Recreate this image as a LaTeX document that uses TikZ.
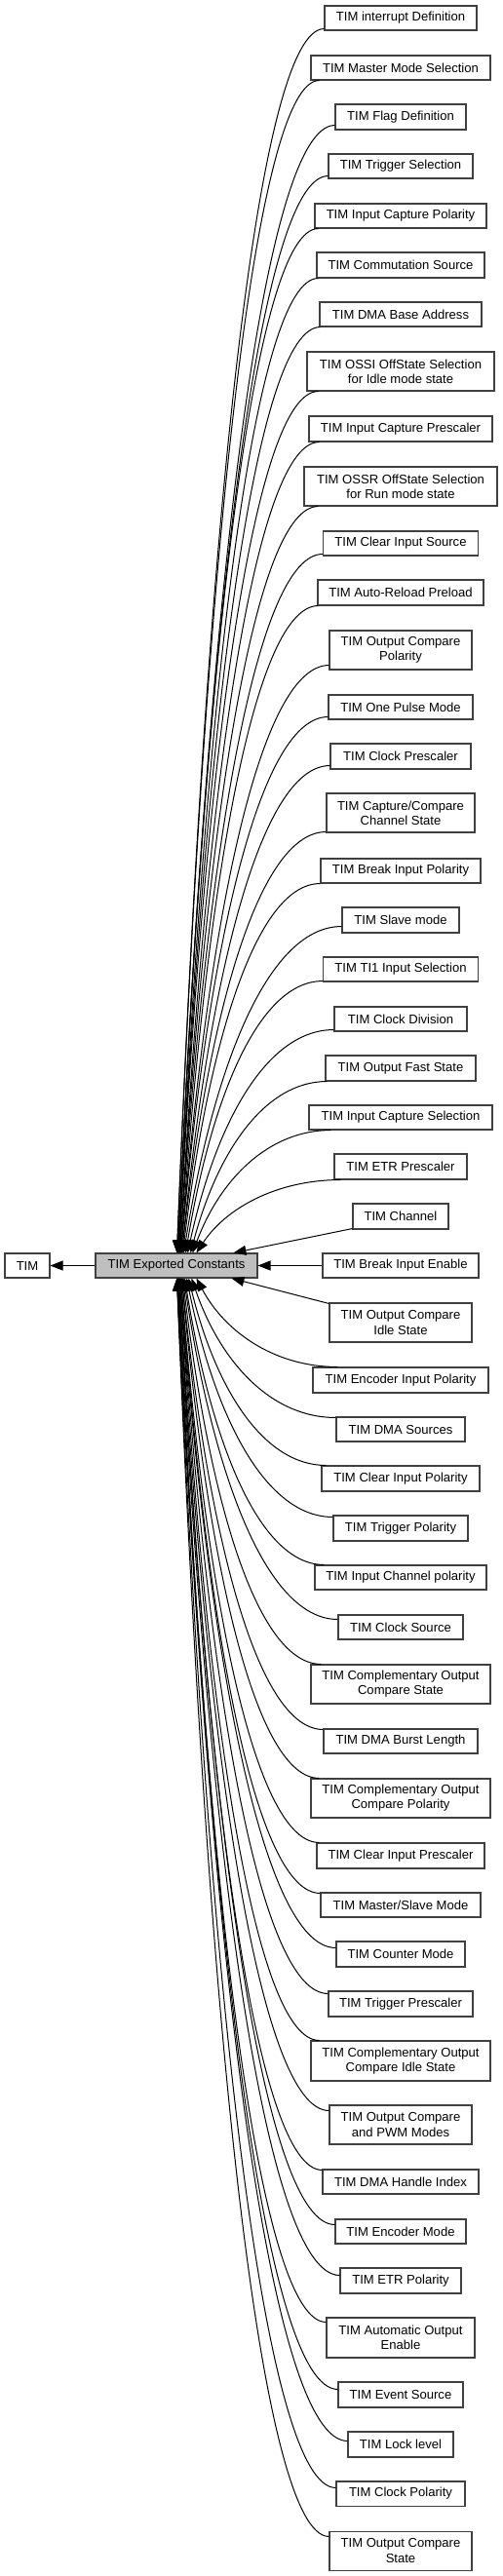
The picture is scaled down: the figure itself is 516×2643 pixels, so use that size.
\documentclass[tikz,border=0pt]{standalone}
\usepackage{fontspec}
\setmainfont{Liberation Sans}
\usetikzlibrary{arrows.meta,calc}
\definecolor{bord}{HTML}{404040}
\definecolor{cgray}{HTML}{BFBFBF}
\tikzset{
  box/.style={draw=bord, line width=0.8pt, fill=white, align=center, inner sep=0pt,
    font=\fontsize{9.8}{11.3}\selectfont},
  edge/.style={draw=black, line width=0.75pt, -{Triangle[length=9.75pt,width=7.5pt]}}
}
\newcommand\bx[6]{\node[box, minimum width=#4*0.75pt, minimum height=#5*0.75pt] (#1) at (#2,#3) {#6};}
\newcommand\upedge[4]{%
  \draw[edge] let \p1=([shift={(#2,#3)}]#1.south west), \p2=([shift={(#4,0)}]cen.north west) in
   (\p1) .. controls ({\x1-0.45*(\x1-\x2)},\y1) and ({\x2+0.2*(\x1-\x2)},{\y2+0.6*(\y1-\y2)}) .. (\p2);}
\newcommand\dnedge[4]{%
  \draw[edge] let \p1=([shift={(#2,#3)}]#1.north west), \p2=([shift={(#4,0)}]cen.south west) in
   (\p1) .. controls ({\x1-0.45*(\x1-\x2)},\y1) and ({\x2+0.2*(\x1-\x2)},{\y2+0.6*(\y1-\y2)}) .. (\p2);}
\begin{document}
\begin{tikzpicture}[x=0.75pt,y=-0.75pt]
\useasboundingbox (0,0) rectangle (516,2643);
% central and TIM
\node[box, fill=cgray, minimum width=166*0.75pt, minimum height=25*0.75pt] (cen) at (181,1298.5) {TIM Exported Constants};
\bx{tim}{28}{1298.5}{46}{25}{TIM}
% upper children
\bx{c1}{411}{18.5}{156}{25}{TIM interrupt Definition}
\bx{c2}{411}{69.5}{184}{25}{TIM Master Mode Selection}
\bx{c3}{411}{120}{134}{26}{TIM Flag Definition}
\bx{c4}{411}{170.5}{148}{25}{TIM Trigger Selection}
\bx{c5}{411}{221.5}{176}{25}{TIM Input Capture Polarity}
\bx{c6}{411}{272}{172}{26}{TIM Commutation Source}
\bx{c7}{411}{322.5}{166}{25}{TIM DMA Base Address}
\bx{c8}{411}{381}{192}{40}{TIM OSSI OffState Selection\\for Idle mode state}
\bx{c9}{411}{440}{188}{26}{TIM Input Capture Prescaler}
\bx{c10}{411}{499}{198}{40}{TIM OSSR OffState Selection\\for Run mode state}
\bx{c11}{411}{557.5}{159}{25}{TIM Clear Input Source}
\bx{c12}{411}{608}{170}{26}{TIM Auto-Reload Preload}
\bx{c13}{411}{667}{146}{40}{TIM Output Compare\\Polarity}
\bx{c14}{411}{725.5}{148}{25}{TIM One Pulse Mode}
\bx{c15}{411}{776}{144}{26}{TIM Clock Prescaler}
\bx{c16}{411}{834}{152}{40}{TIM Capture/Compare\\Channel State}
\bx{c17}{411}{893.5}{164}{25}{TIM Break Input Polarity}
\bx{c18}{411}{944}{120}{26}{TIM Slave mode}
\bx{c19}{411}{994.5}{159}{25}{TIM TI1 Input Selection}
\bx{c20}{411}{1045.5}{136}{25}{TIM Clock Division}
\bx{c21}{411}{1096}{154}{26}{TIM Output Fast State}
\bx{c22}{411}{1146.5}{188}{25}{TIM Input Capture Selection}
\bx{c23}{411}{1197}{136}{26}{TIM ETR Prescaler}
\bx{c24}{411}{1248}{98}{26}{TIM Channel}
\bx{c25}{411}{1298.5}{160}{25}{TIM Break Input Enable}
% lower children
\bx{c26}{411}{1357}{146}{40}{TIM Output Compare\\Idle State}
\bx{c27}{411}{1416}{180}{26}{TIM Encoder Input Polarity}
\bx{c28}{411}{1466.5}{132}{25}{TIM DMA Sources}
\bx{c29}{411}{1517}{162}{26}{TIM Clear Input Polarity}
\bx{c30}{411}{1568}{138}{26}{TIM Trigger Polarity}
\bx{c31}{411}{1618.5}{176}{25}{TIM Input Channel polarity}
\bx{c32}{411}{1669.5}{128}{25}{TIM Clock Source}
\bx{c33}{411}{1728}{184}{40}{TIM Complementary Output\\Compare State}
\bx{c34}{411}{1786.5}{158}{25}{TIM DMA Burst Length}
\bx{c35}{411}{1845}{184}{40}{TIM Complementary Output\\Compare Polarity}
\bx{c36}{411}{1904}{172}{26}{TIM Clear Input Prescaler}
\bx{c37}{411}{1954.5}{164}{25}{TIM Master/Slave Mode}
\bx{c38}{411}{2005}{132}{26}{TIM Counter Mode}
\bx{c39}{411}{2056}{148}{26}{TIM Trigger Prescaler}
\bx{c40}{411}{2114.5}{184}{41}{TIM Complementary Output\\Compare Idle State}
\bx{c41}{411}{2180}{146}{40}{TIM Output Compare\\and PWM Modes}
\bx{c42}{411}{2238.5}{160}{25}{TIM DMA Handle Index}
\bx{c43}{411}{2289.5}{134}{25}{TIM Encoder Mode}
\bx{c44}{411}{2340}{124}{26}{TIM ETR Polarity}
\bx{c45}{411}{2398.5}{152}{41}{TIM Automatic Output\\Enable}
\bx{c46}{411}{2457}{128}{26}{TIM Event Source}
\bx{c47}{411}{2508}{108}{26}{TIM Lock level}
\bx{c48}{411}{2558.5}{132}{25}{TIM Clock Polarity}
\bx{c49}{411}{2617}{146}{40}{TIM Output Compare\\State}
% edges
\draw[edge] (cen.west) -- (tim.east);
\draw[edge] (c25.west) -- (cen.east);
\upedge{c1}{0}{-2}{84}
\upedge{c2}{9}{0}{84}
\upedge{c3}{0}{-5}{85}
\upedge{c4}{0}{-3}{85}
\upedge{c5}{4}{0}{85}
\upedge{c6}{2}{0}{86}
\upedge{c7}{1}{0}{86}
\upedge{c8}{12}{0}{86}
\upedge{c9}{11}{0}{87}
\upedge{c10}{15}{0}{87}
\upedge{c11}{0}{-2}{87}
\upedge{c12}{1}{0}{88}
\upedge{c13}{0}{-5}{88}
\upedge{c14}{0}{-3}{88}
\upedge{c15}{0}{-4}{89}
\upedge{c16}{0}{-1}{89}
\upedge{c17}{0}{0}{90}
\upedge{c18}{0}{-7}{91}
\upedge{c19}{0}{-1}{93}
\upedge{c20}{0}{-2}{95}
\upedge{c21}{2}{0}{98}
\upedge{c22}{23}{0}{100}
\upedge{c23}{7}{0}{104}
\draw[edge] ([shift={(0,-1)}]c24.south west) -- ([shift={(142,0)}]cen.north west);
\draw[edge] ([shift={(0,1)}]c26.north west) -- ([shift={(140,0)}]cen.south west);
\dnedge{c27}{26}{0}{104}
\dnedge{c28}{0}{1}{99}
\dnedge{c29}{5}{0}{96}
\dnedge{c30}{0}{2}{94}
\dnedge{c31}{10}{0}{92}
\dnedge{c32}{0}{5}{91}
\dnedge{c33}{11}{0}{90}
\dnedge{c34}{0}{1}{89}
\dnedge{c35}{9}{0}{89}
\dnedge{c36}{3}{0}{88}
\dnedge{c37}{0}{1}{88}
\dnedge{c38}{0}{7}{87}
\dnedge{c39}{0}{3}{87}
\dnedge{c40}{9}{0}{87}
\dnedge{c41}{0}{6}{86}
\dnedge{c42}{0}{1}{86}
\dnedge{c43}{0}{6}{86}
\dnedge{c44}{0}{8}{85}
\dnedge{c45}{0}{5}{85}
\dnedge{c46}{0}{8}{85}
\dnedge{c47}{0}{10}{84}
\dnedge{c48}{0}{7}{84}
\dnedge{c49}{0}{6}{84}
\end{tikzpicture}
\end{document}
